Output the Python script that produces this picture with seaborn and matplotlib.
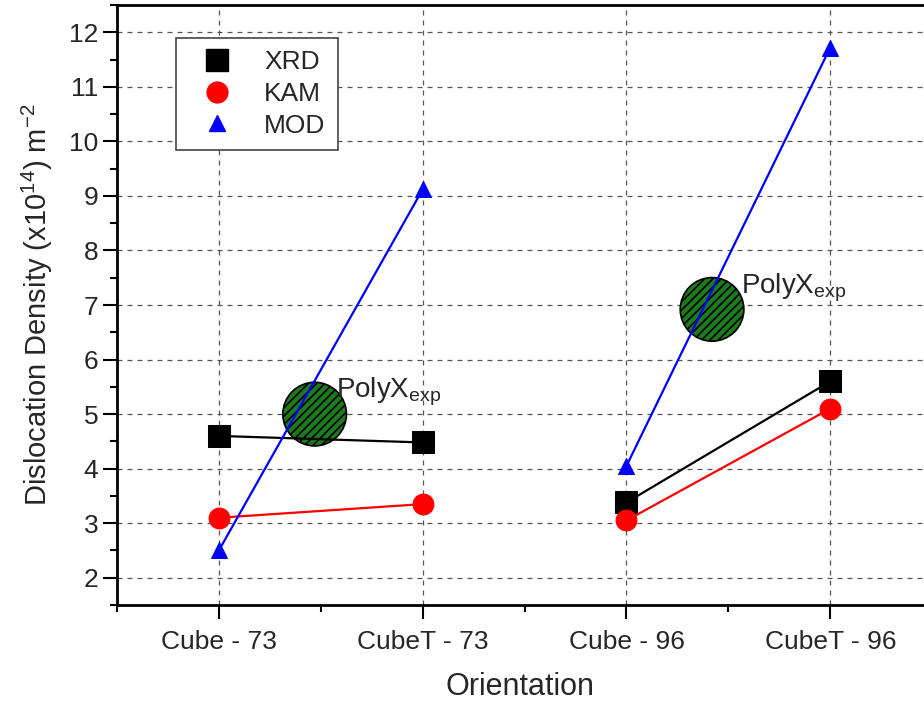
import matplotlib
matplotlib.use("Agg")
import matplotlib.pyplot as plt
from matplotlib.lines import Line2D
from matplotlib.ticker import MultipleLocator
import seaborn as sns
import pandas as pd

# Orientation categories and measured dislocation densities (x10^14 m^-2)
orientations = ["Cube - 73", "CubeT - 73", "Cube - 96", "CubeT - 96"]
sample_group = ["73", "73", "96", "96"]
xrd = [4.6, 4.48, 3.38, 5.6]
kam = [3.1, 3.35, 3.05, 5.1]
mod = [2.5, 9.12, 4.05, 11.72]

# Polycrystal experimental values
polyx_x = [1.47, 3.42]
polyx_y = [5.0, 6.92]

sns.set_theme(style="white")
plt.rcParams["font.family"] = ["Liberation Sans", "DejaVu Sans"]
plt.rcParams["mathtext.fontset"] = "custom"
plt.rcParams["mathtext.rm"] = "Liberation Sans"
plt.rcParams["mathtext.it"] = "Liberation Sans"
plt.rcParams["hatch.linewidth"] = 1.2

pos = list(range(1, len(orientations) + 1))
frames = []
for name, vals in [("XRD", xrd), ("KAM", kam), ("MOD", mod)]:
    frames.append(pd.DataFrame({"pos": pos, "value": vals, "method": name,
                                "group": sample_group}))
df = pd.concat(frames, ignore_index=True)

styles = {
    "XRD": dict(color="black", marker="s", markersize=16),
    "KAM": dict(color="red", marker="o", markersize=15),
    "MOD": dict(color="blue", marker="^", markersize=11),
}

fig = plt.figure(figsize=(9.24, 7.04), dpi=100)
ax = fig.add_axes([0.1266, 0.1406, 0.8734, 0.8523])

# Polycrystal markers (hatched discs), drawn beneath the series lines
ax.scatter(polyx_x, polyx_y, s=2100, facecolor="#1d7a1d", edgecolor="black",
           hatch="////", linewidth=1.2, zorder=2)
label_dx = [0.105, 0.14]
for x, y, dx in zip(polyx_x, polyx_y, label_dx):
    ax.text(x + dx, y + 0.3, r"PolyX$_{\mathrm{exp}}$", fontsize=20,
            ha="left", va="baseline", zorder=5)

for name, st in styles.items():
    sub = df[df["method"] == name]
    sns.lineplot(data=sub, x="pos", y="value", units="group", estimator=None,
                 color=st["color"], marker=st["marker"],
                 markersize=st["markersize"], markeredgecolor=st["color"],
                 linewidth=1.6, ax=ax, legend=False, zorder=3)

ax.set_xlim(0.5, 4.46)
ax.set_ylim(1.5, 12.5)
ax.set_xticks(pos)
ax.set_xticklabels(orientations, fontsize=19)
ax.xaxis.set_minor_locator(MultipleLocator(0.5))
ax.yaxis.set_major_locator(MultipleLocator(1))
ax.yaxis.set_minor_locator(MultipleLocator(0.5))
ax.tick_params(axis="y", labelsize=19)
ax.tick_params(which="major", direction="out", length=10, width=1.5,
               color="black", left=True, bottom=True)
ax.tick_params(which="minor", direction="out", length=5, width=1.5,
               color="black", left=True, bottom=True)
ax.tick_params(axis="x", pad=8)

ax.grid(True, which="major", color="#555555", linestyle=(0, (4, 4)),
        linewidth=0.9)
ax.set_axisbelow(True)

for side in ["left", "bottom", "top"]:
    ax.spines[side].set_color("black")
    ax.spines[side].set_linewidth(2)
ax.spines["right"].set_visible(False)

ax.set_xlabel("Orientation", fontsize=22, labelpad=13)
ax.set_ylabel(r"Dislocation Density (x10$^{14}$) m$^{-2}$", fontsize=21,
              labelpad=10)

handles = [Line2D([], [], linestyle="none", color=st["color"],
                  marker=st["marker"], markersize=st["markersize"],
                  markeredgecolor=st["color"], label=name)
           for name, st in styles.items()]
leg = ax.legend(handles=handles, loc="upper left",
                bbox_to_anchor=(0.073, 0.945), borderaxespad=0,
                fontsize=19, frameon=True, fancybox=False, framealpha=1,
                edgecolor="#444444", handletextpad=0.7, borderpad=0.45,
                labelspacing=0.3, handlelength=2.2)
leg.get_frame().set_linewidth(1.2)

fig.savefig("out.png", dpi=100)
